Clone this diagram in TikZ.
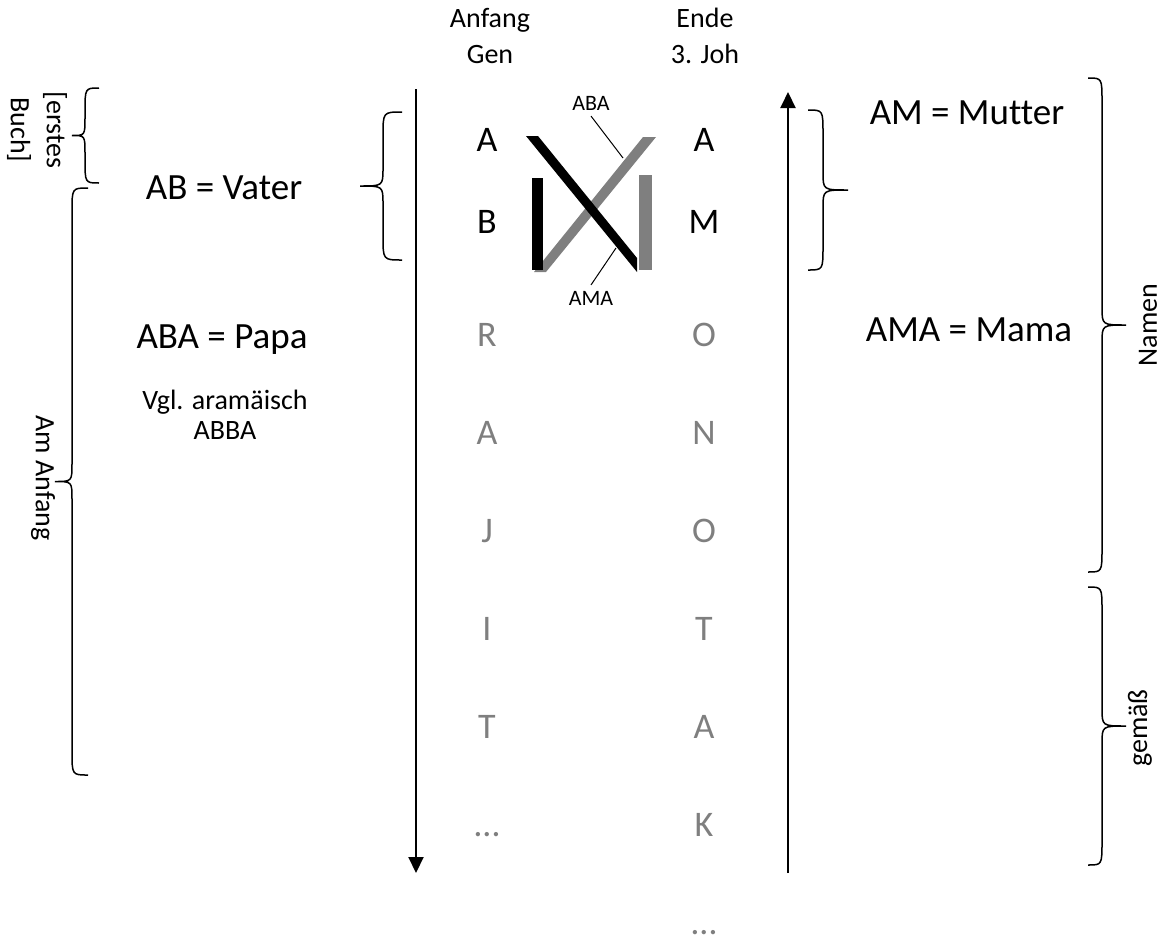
\documentclass[tikz,border=0pt]{standalone}
\usepackage{fontspec}
\setmainfont[Ligatures={NoCommon}]{Carlito}
\usepackage{xcolor}
\usepackage{tikz}
\usetikzlibrary{arrows.meta}

\definecolor{fadegray}{RGB}{127,127,127}

% curly brace: end x, stem x, tip x, top y, bottom y
\newcommand{\curlybrace}[5]{%
	\draw[bracket] (#1,#4) .. controls (#2,#4) .. (#2,#4+24)
		-- (#2,{(#4+#5)/2-18}) .. controls (#2,{(#4+#5)/2}) .. (#3,{(#4+#5)/2})
		.. controls (#2,{(#4+#5)/2}) .. (#2,{(#4+#5)/2+18})
		-- (#2,#5-24) .. controls (#2,#5) .. (#1,#5);}

\begin{document}
\begin{tikzpicture}[x=1pt,y=-1pt]


	\tikzstyle{big}=[font=\fontsize{37}{44}\selectfont,inner sep=0pt]
	\tikzstyle{small}=[font=\fontsize{28}{36}\selectfont,inner sep=0pt,align=center]
	\tikzstyle{letter}=[font=\fontsize{36}{44}\selectfont,inner sep=0pt,text height=23pt,text depth=0pt]
	\tikzstyle{faded}=[letter,text=fadegray]
	\tikzstyle{tag}=[font=\fontsize{22}{26}\selectfont,inner sep=0pt,outer sep=6pt]
	\tikzstyle{leader}=[line width=1pt]
	\tikzstyle{bracket}=[line width=1.5pt]
	\tikzstyle{timeline}=[line width=2pt,-{Triangle[width=15pt,length=16pt]}]

	\useasboundingbox (0,0) rectangle (1166,937);

	\node[small] (anfang) at (490,36) {Anfang\\Gen};
	\node[small] (ende) at (705,36) {Ende\\3. Joh};

	\coordinate (gtop) at (416,89);
	\coordinate (gbot) at (416,873);
	\coordinate (jbot) at (788,873);
	\coordinate (jtop) at (788,92);
	\draw[timeline] (gtop) -- (gbot);
	\draw[timeline] (jbot) -- (jtop);

	\node[letter] (la) at (487,140) {A};
	\node[letter] (lb) at (487,222) {B};
	\node[letter] (ra) at (704,140) {A};
	\node[letter] (rm) at (704,222) {M};
	\foreach \ch [count=\i from 0] in {R,A,J,I,T,…}
		\node[faded] (l\i) at (487,{335+98*\i}) {\ch};
	\foreach \ch [count=\i from 0] in {O,N,O,T,A,K,…}
		\node[faded] (r\i) at (704,{335+98*\i}) {\ch};

	\begin{scope}
	\fill[fadegray] (643,137) -- (656,137) -- (546,272) -- (534,272) -- cycle;
	\fill[black] (532,178) rectangle (543,270);
	\fill[fadegray] (639,175) rectangle (652,270);
	\fill[black] (526,136) -- (538,136) -- (637,258) -- (637,272) -- cycle;
	\end{scope}

	\node[tag] (abatag) at (591,103) {ABA};
	\node[tag] (amatag) at (591,298) {AMA};
	\coordinate (abahit) at (623,158);
	\coordinate (amahit) at (616,248);
	\draw[leader] (abatag.south) -- (abahit);
	\draw[leader] (amatag.north) -- (amahit);

	\node[big] (vater) at (224,188) {AB = Vater};
	\node[big] (papa) at (222,340) {ABA = Papa};
	\node[small,font=\fontsize{28}{30}\selectfont] (abba) at (225,415) {Vgl. aramäisch\\ABBA};
	\node[big] (mutter) at (967,113) {AM = Mutter};
	\node[big] (mama) at (969,330) {AMA = Mama};

	\curlybrace{402}{383}{360}{112}{260}
	\curlybrace{808}{823}{848}{110}{270}
	\curlybrace{99}{85}{72}{88}{183}
	\curlybrace{88}{72}{55}{188}{775}
	\curlybrace{1088}{1102}{1126}{78}{572}
	\curlybrace{1088}{1102}{1126}{587}{865}

	\node[small,rotate=-90] (erstes) at (37,130) {[erstes\\Buch]};
	\node[small,rotate=-90] (amanfang) at (43,478) {Am Anfang};
	\node[small,rotate=90] (namen) at (1148,325) {Namen};
	\node[small,rotate=90] (gemaess) at (1140,728) {gemäß};

\end{tikzpicture}
\end{document}
